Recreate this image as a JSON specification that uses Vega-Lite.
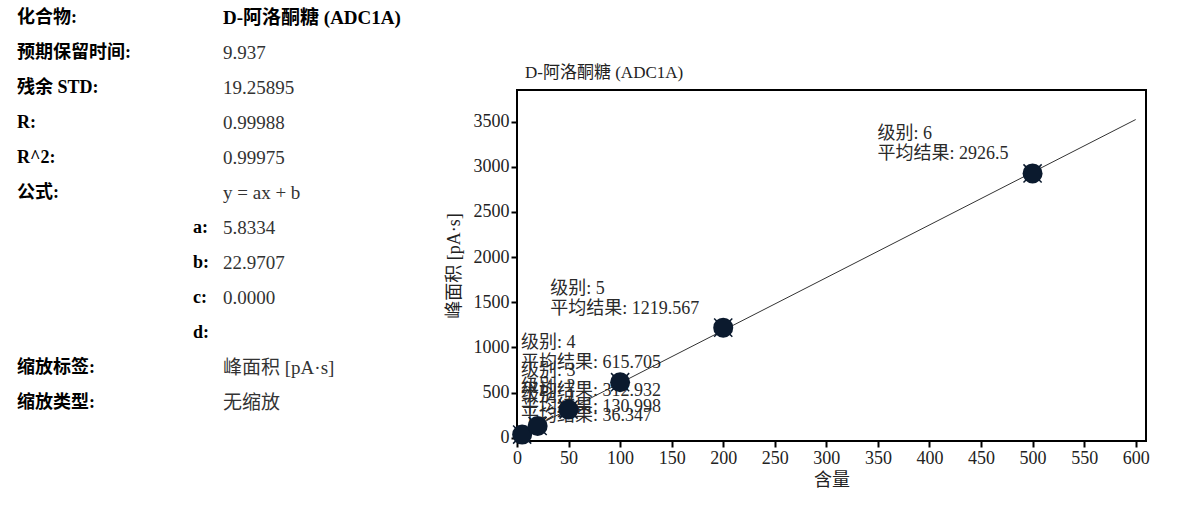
{
  "$schema": "https://vega.github.io/schema/vega-lite/v6.json",
  "width": 629,
  "height": 351,
  "autosize": "none",
  "padding": {"left": 517, "top": 90, "right": 51, "bottom": 66},
  "background": "#ffffff",
  "datasets": {
    "levels": [
      {"level": 1, "amount": 5, "area": 36.347, "label": "级别: 1\n平均结果: 36.347"},
      {"level": 2, "amount": 20, "area": 130.998, "label": "级别: 2\n平均结果: 130.998"},
      {"level": 3, "amount": 50, "area": 312.932, "label": "级别: 3\n平均结果: 312.932"},
      {"level": 4, "amount": 100, "area": 615.705, "label": "级别: 4\n平均结果: 615.705"},
      {"level": 5, "amount": 200, "area": 1219.567, "label": "级别: 5\n平均结果: 1219.567"},
      {"level": 6, "amount": 500, "area": 2926.5, "label": "级别: 6\n平均结果: 2926.5"}
    ],
    "fit": [
      {"amount": 0, "area": 23},
      {"amount": 600, "area": 3523}
    ],
    "heading": [
      {"amount": 0, "area": 3850, "title": "D-阿洛酮糖 (ADC1A)"}
    ],
    "info": [
      {"row": 1, "label": "化合物:", "key": "", "value": "D-阿洛酮糖 (ADC1A)"},
      {"row": 2, "label": "预期保留时间:", "key": "", "value": "9.937"},
      {"row": 3, "label": "残余 STD:", "key": "", "value": "19.25895"},
      {"row": 4, "label": "R:", "key": "", "value": "0.99988"},
      {"row": 5, "label": "R^2:", "key": "", "value": "0.99975"},
      {"row": 6, "label": "公式:", "key": "", "value": "y = ax + b"},
      {"row": 7, "label": "", "key": "a:", "value": "5.8334"},
      {"row": 8, "label": "", "key": "b:", "value": "22.9707"},
      {"row": 9, "label": "", "key": "c:", "value": "0.0000"},
      {"row": 10, "label": "", "key": "d:", "value": ""},
      {"row": 11, "label": "缩放标签:", "key": "", "value": "峰面积 [pA·s]"},
      {"row": 12, "label": "缩放类型:", "key": "", "value": "无缩放"}
    ]
  },
  "config": {
    "view": {"stroke": "#000000", "strokeWidth": 2},
    "axis": {
      "domain": false,
      "grid": false,
      "ticks": true,
      "tickColor": "#000000",
      "tickWidth": 2,
      "tickSize": 6,
      "labelFont": "Liberation Serif, Noto Sans CJK SC",
      "labelFontSize": 18,
      "labelColor": "#222222",
      "labelPadding": 2,
      "titleFont": "Liberation Serif, Noto Sans CJK SC",
      "titleFontSize": 18,
      "titleFontWeight": "normal",
      "titleColor": "#222222"
    },
    "text": {"font": "Liberation Serif, Noto Sans CJK SC"}
  },
  "layer": [
    {
      "layer": [
        {
          "data": {"name": "fit"},
          "mark": {"type": "line", "color": "#333333", "strokeWidth": 1},
          "encoding": {
            "x": {"field": "amount", "type": "quantitative", "scale": {"domain": [0, 610], "nice": false, "zero": false},
              "axis": {"values": [0, 50, 100, 150, 200, 250, 300, 350, 400, 450, 500, 550, 600], "format": "d", "title": "含量", "titlePadding": 4, "labelFlush": false}},
            "y": {"field": "area", "type": "quantitative", "scale": {"domain": [-35, 3850], "nice": false, "zero": false},
              "axis": {"values": [0, 500, 1000, 1500, 2000, 2500, 3000, 3500], "format": "d", "title": "峰面积 [pA·s]", "titlePadding": 10, "labelFlush": false}}
          }
        },
        {
          "data": {"name": "heading"},
          "mark": {"type": "text", "align": "left", "baseline": "middle", "dx": 8, "dy": -17, "fontSize": 17, "color": "#222222"},
          "encoding": {
            "x": {"field": "amount", "type": "quantitative"},
            "y": {"field": "area", "type": "quantitative"},
            "text": {"field": "title"}
          }
        },
        {
          "data": {"name": "levels"},
          "transform": [{"filter": "datum.level >= 5"}],
          "mark": {"type": "text", "align": "left", "baseline": "middle", "dx": {"expr": "-(101 + 9 * (length(datum.label) - 12))"}, "dy": -39, "lineBreak": "\n", "lineHeight": 20, "fontSize": 18, "color": "#2a2a2a"},
          "encoding": {
            "x": {"field": "amount", "type": "quantitative"},
            "y": {"field": "area", "type": "quantitative"},
            "text": {"field": "label"}
          }
        },
        {
          "data": {"name": "levels"},
          "transform": [{"filter": "datum.level <= 4"}],
          "mark": {"type": "text", "align": "left", "baseline": "middle", "dx": 4, "dy": -39, "lineBreak": "\n", "lineHeight": 20, "fontSize": 18, "color": "#2a2a2a"},
          "encoding": {
            "x": {"datum": 0, "type": "quantitative"},
            "y": {"field": "area", "type": "quantitative"},
            "text": {"field": "label"}
          }
        },
        {
          "data": {"name": "levels"},
          "mark": {"type": "point", "shape": "M-1,-1L1,1M-1,1L1,-1", "filled": false, "stroke": "#0b1a2e", "strokeWidth": 1.5, "opacity": 1, "size": 330},
          "encoding": {
            "x": {"field": "amount", "type": "quantitative"},
            "y": {"field": "area", "type": "quantitative"}
          }
        },
        {
          "data": {"name": "levels"},
          "mark": {"type": "circle", "color": "#0b1a2e", "opacity": 1, "size": 400},
          "encoding": {
            "x": {"field": "amount", "type": "quantitative"},
            "y": {"field": "area", "type": "quantitative"}
          }
        }
      ]
    },
    {
      "data": {"name": "info"},
      "encoding": {
        "y": {"field": "row", "type": "ordinal", "scale": {"type": "point", "range": [-72, 313], "padding": 0}, "axis": null}
      },
      "layer": [
        {
          "mark": {"type": "text", "align": "left", "baseline": "middle", "fontSize": 18, "fontWeight": "bold", "color": "#000000"},
          "encoding": {
            "x": {"datum": "label", "type": "nominal", "scale": {"type": "point", "domain": ["label", "value"], "range": [-500, -294], "padding": 0}, "axis": null},
            "text": {"field": "label"}
          }
        },
        {
          "mark": {"type": "text", "align": "left", "baseline": "middle", "dx": -30, "fontSize": 18, "fontWeight": "bold", "color": "#000000"},
          "encoding": {
            "x": {"datum": "value", "type": "nominal"},
            "text": {"field": "key"}
          }
        },
        {
          "transform": [{"filter": "datum.row != 1"}],
          "mark": {"type": "text", "align": "left", "baseline": "middle", "fontSize": 19, "fontWeight": "normal", "color": "#333333"},
          "encoding": {
            "x": {"datum": "value", "type": "nominal"},
            "text": {"field": "value"}
          }
        },
        {
          "transform": [{"filter": "datum.row == 1"}],
          "mark": {"type": "text", "align": "left", "baseline": "middle", "fontSize": 19, "fontWeight": "bold", "color": "#000000"},
          "encoding": {
            "x": {"datum": "value", "type": "nominal"},
            "text": {"field": "value"}
          }
        }
      ]
    }
  ],
  "resolve": {"scale": {"x": "independent", "y": "independent"}, "axis": {"x": "independent", "y": "independent"}}
}
